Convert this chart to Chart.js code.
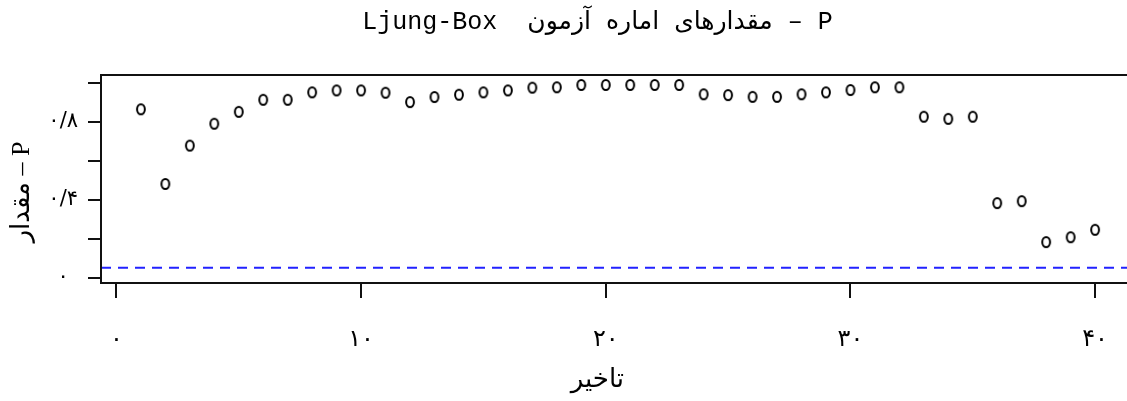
<!DOCTYPE html>
<html>
<head>
<meta charset="utf-8">
<script src="https://cdn.jsdelivr.net/npm/chart.js@4"></script>
<style>
  html, body { margin: 0; padding: 0; background: #fff; overflow: hidden; }
  #wrap { width: 1194px; height: 401px; }
</style>
</head>
<body>
<div id="wrap"><canvas id="pvalChart"></canvas></div>
<script>
// données
const lags = [1, 2, 3, 4, 5, 6, 7, 8, 9, 10, 11, 12, 13, 14, 15, 16, 17, 18, 19, 20,
              21, 22, 23, 24, 25, 26, 27, 28, 29, 30, 31, 32, 33, 34, 35, 36, 37, 38, 39, 40];
const pValues = [0.863, 0.48, 0.677, 0.789, 0.85, 0.912, 0.912, 0.95, 0.96, 0.96,
                 0.948, 0.90, 0.926, 0.938, 0.95, 0.96, 0.974, 0.976, 0.988, 0.988,
                 0.988, 0.988, 0.988, 0.94, 0.936, 0.927, 0.927, 0.94, 0.95, 0.962,
                 0.976, 0.976, 0.825, 0.814, 0.825, 0.382, 0.392, 0.182, 0.207, 0.245];
const alphaLevel = 0.05;

const xTicks = [0, 10, 20, 30, 40];
const xTickText = ['۰', '۱۰', '۲۰', '۳۰', '۴۰'];
const yTicks = [0, 0.2, 0.4, 0.6, 0.8, 1];
const yTickText = ['۰', '', '۰/۴', '', '۰/۸', ''];
const xRange = [-0.63, 41.63];
const yRange = [-0.028, 1.039];

const ink = '#111';
const faFont = "'DejaVu Sans', sans-serif";
const nb = n => '\u00A0'.repeat(n);

// petit cercle ovale façon pch=1
const ring = document.createElement('canvas');
ring.width = 12;
ring.height = 14;
const rc = ring.getContext('2d');
rc.strokeStyle = '#000';
rc.lineWidth = 2;
rc.beginPath();
rc.ellipse(6, 7, 3.9, 5, 0, 0, Math.PI * 2);
rc.stroke();

// cadre complet autour de la zone de tracé
const boxPlugin = {
    id: 'box',
    afterDraw(chart) {
        const a = chart.chartArea;
        const ctx = chart.ctx;
        ctx.save();
        ctx.strokeStyle = ink;
        ctx.lineWidth = 2;
        ctx.strokeRect(a.left, a.top, a.right - a.left, a.bottom - a.top);
        ctx.restore();
    }
};

new Chart(document.getElementById('pvalChart'), {
    type: 'scatter',
    data: {
        datasets: [{
            data: lags.map((l, i) => ({ x: l, y: pValues[i] })),
            pointStyle: ring,
            pointRadius: 5,
            showLine: false
        }, {
            data: xRange.map(x => ({ x: x, y: alphaLevel })),
            showLine: true,
            borderColor: '#2222ff',
            borderWidth: 2,
            borderDash: [10, 7],
            pointRadius: 0
        }]
    },
    options: {
        responsive: true,
        maintainAspectRatio: false,
        animation: false,
        devicePixelRatio: 1,
        layout: { padding: { left: 0, right: 59, top: 0, bottom: 0 } },
        plugins: {
            legend: { display: false },
            tooltip: { enabled: false },
            title: {
                display: true,
                text: nb(4) + '\u202B' + 'P – مقدارهای اماره آزمون  Ljung-Box' + '\u202C',
                color: '#000',
                font: { family: "'Liberation Mono', 'DejaVu Sans'", size: 25, weight: 'normal' },
                padding: { top: 7, bottom: 38 }
            }
        },
        scales: {
            x: {
                type: 'linear',
                min: xRange[0],
                max: xRange[1],
                afterFit: s => { s.height = 118; },
                afterBuildTicks: s => { s.ticks = xTicks.map(v => ({ value: v })); },
                grid: { drawOnChartArea: false, tickLength: 15, color: ink, lineWidth: 2 },
                border: { display: true, color: ink, width: 2 },
                ticks: {
                    callback: (v, i) => xTickText[i],
                    autoSkip: false,
                    maxRotation: 0,
                    padding: 27,
                    color: '#000',
                    font: { family: faFont, size: 24 }
                },
                title: {
                    display: true,
                    text: 'تاخیر' + nb(5),
                    color: '#000',
                    font: { family: faFont, size: 26 },
                    padding: { top: 0, bottom: 5 }
                }
            },
            y: {
                type: 'linear',
                min: yRange[0],
                max: yRange[1],
                afterFit: s => { s.width = 101; },
                afterBuildTicks: s => { s.ticks = yTicks.map(v => ({ value: v })); },
                grid: { drawOnChartArea: false, tickLength: 13, color: ink, lineWidth: 2 },
                border: { display: true, color: ink, width: 2 },
                ticks: {
                    callback: (v, i) => yTickText[i],
                    autoSkip: false,
                    crossAlign: 'center',
                    padding: 10,
                    color: '#000',
                    font: { family: faFont, size: 21 }
                },
                title: {
                    display: true,
                    text: '\u202B' + 'P – مقدار' + '\u202C' + nb(4),
                    color: '#000',
                    font: { family: "'Liberation Serif', 'DejaVu Sans'", size: 26 },
                    padding: { top: 7, bottom: 0 }
                }
            }
        }
    },
    plugins: [boxPlugin]
});
</script>
</body>
</html>
